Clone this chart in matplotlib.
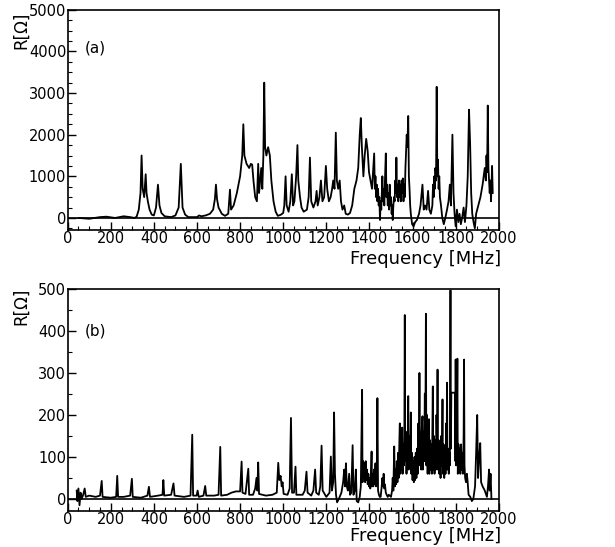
import matplotlib
matplotlib.use("Agg")
import matplotlib.pyplot as plt
from matplotlib.ticker import MultipleLocator

# ---------------- data ----------------
freq_a = [50, 100, 150, 180, 220, 260, 290, 310, 320, 330, 338, 343, 348, 355, 362, 366, 372, 380, 390, 400,
          410, 419, 426, 435, 450, 480, 500, 515, 525, 533, 545, 560, 600, 610, 620, 640, 660, 675, 683, 688,
          693, 700, 715, 730, 745, 753, 758, 770, 785, 800, 810, 815, 820, 830, 842, 850, 856, 862, 870, 878,
          884, 888, 893, 898, 903, 908, 912, 916, 922, 930, 938, 945, 955, 965, 975, 990, 1000, 1005, 1011, 1016,
          1025, 1033, 1040, 1046, 1052, 1060, 1066, 1070, 1078, 1085, 1095, 1110, 1118, 1124, 1130, 1140, 1150, 1155, 1160, 1168,
          1175, 1182, 1190, 1198, 1204, 1212, 1220, 1227, 1232, 1238, 1244, 1249, 1255, 1262, 1268, 1275, 1283, 1290, 1300, 1310,
          1320, 1330, 1340, 1348, 1355, 1360, 1365, 1372, 1378, 1385, 1392, 1398, 1405, 1412,
          1418, 1422, 1425, 1428, 1431, 1434, 1437, 1440, 1443, 1446, 1449, 1452, 1455, 1458, 1460, 1463, 1466, 1469, 1472, 1476,
          1479, 1482, 1485, 1488, 1491, 1494, 1497, 1500, 1503, 1506, 1508, 1511, 1514, 1517, 1520, 1523, 1525, 1528, 1531, 1534,
          1537, 1540, 1543, 1546, 1549, 1552, 1555, 1558, 1561, 1564, 1567, 1570, 1573, 1576, 1578, 1580, 1583, 1586, 1589, 1592,
          1598, 1605, 1612, 1620, 1630, 1637, 1646, 1652, 1658, 1665, 1672, 1678, 1685,
          1692, 1695, 1698, 1701, 1704, 1706, 1709, 1712, 1715, 1718, 1721, 1724, 1727, 1732,
          1738, 1745, 1752, 1760, 1767, 1773, 1778, 1785, 1790,
          1795, 1800, 1806, 1812, 1818, 1824, 1830, 1837, 1843, 1850, 1856, 1862, 1867, 1872, 1877, 1883, 1889, 1895, 1905, 1915,
          1925, 1935, 1940, 1943, 1946, 1949, 1952, 1955, 1958, 1961, 1964, 1966, 1969, 1972]
r_a = [0, -20, 20, 30, 0, 40, 20, 0, 30, 200, 600, 1500, 700, 500, 1050, 600, 400, 200, 80, 60,
       250, 800, 300, 120, 40, 20, 60, 250, 1300, 250, 80, 20, 20, 60, 40, 60, 100, 200, 450, 800,
       450, 250, 100, 50, 100, 680, 200, 300, 600, 1000, 1500, 2250, 1500, 1300, 1200, 1300, 1280, 900, 500, 400,
       1300, 600, 900, 1200, 700, 1500, 3250, 1700, 1500, 1700, 1500, 900, 400, 150, 50, 80, 120, 300, 1000, 300,
       150, 400, 1050, 300, 400, 1000, 1750, 900, 500, 250, 150, 200, 500, 1450, 400, 250, 400, 650, 300, 500,
       900, 400, 500, 1250, 700, 400, 500, 700, 900, 700, 2050, 900, 700, 900, 400, 200, 300, 100, 80, 120,
       300, 700, 900, 1200, 2000, 2400, 1700, 1000, 1500, 1900, 1600, 1100, 900, 700,
       1200, 1550, 700, 1000, 500, 800, 400, 700, 300, 500, -50, 400, 200, 700, 1000, 400, 700, 300, 900, 1550,
       500, 800, 300, 600, 200, 800, 300, 500, 100, 300, -50, 300, 500, 400, 900, 600, 1450, 500, 800, 400,
       900, 500, 800, 400, 900, 600, 950, 400, 800, 500, 1200, 1600, 2000, 1700, 2100, 2450, 1000, 700, 300, 100,
       -150, -200, -100, -50, 100, 300, 800, 200, 300, 200, 650, 200, 100,
       300, 800, 500, 1000, 700, 1200, 900, 3150, 1000, 1400, 700, 1000, 500, 300,
       0, -150, 0, 200, 400, 800, 300, 2000, 600,
       100, -200, 200, -100, 100, -150, 0, 250, -100, 300, 1000, 2600, 1800, 600, 100, -100, -250, 100, 300, 500,
       800, 1200, 900, 1500, 1100, 2700, 1200, 900, 600, 900, 400, 700, 1250, 600]

freq_b = [42, 45, 50, 55, 60, 65, 72, 79, 84, 100, 130, 150, 158, 162, 200, 225, 230, 234, 260, 290,
          298, 302, 340, 370, 377, 382, 420, 440, 444, 448, 480, 491, 496, 540, 570, 578, 582, 598, 603, 608,
          630, 638, 643, 680, 700, 708, 712, 740, 760, 780, 800, 807, 811, 825, 838, 842, 860, 870, 876, 880,
          884, 888, 920, 950, 970, 977, 982, 988, 993, 997, 1002, 1020, 1030, 1036, 1041, 1050, 1057, 1061, 1090, 1100,
          1108, 1113, 1130, 1140, 1148, 1153, 1165, 1172, 1178, 1183, 1200, 1215, 1221, 1226, 1232, 1236, 1240, 1245, 1250, 1258,
          1270, 1278, 1283, 1287, 1291, 1295, 1300, 1306, 1310, 1316, 1322, 1326, 1332, 1337, 1341, 1348, 1355,
          1360, 1366, 1368, 1371, 1374, 1377, 1380, 1383, 1386, 1389, 1392, 1395, 1398, 1401, 1404, 1407, 1410, 1412, 1415, 1418,
          1421, 1424, 1428, 1431, 1434, 1437, 1440, 1444, 1448, 1452, 1456, 1460, 1463, 1466, 1469, 1472, 1476, 1480, 1485, 1490,
          1500, 1505, 1508, 1511, 1515, 1518, 1521, 1524, 1527, 1530, 1533, 1536, 1539, 1541, 1543, 1546, 1549, 1552, 1554, 1557,
          1560, 1562, 1564, 1566, 1569, 1572, 1575, 1578, 1580, 1582, 1585, 1588, 1590, 1592, 1594, 1597, 1600, 1603, 1606, 1609,
          1612, 1615, 1618, 1621, 1624, 1627, 1630, 1632, 1634, 1637, 1640, 1643, 1646, 1648, 1651, 1654, 1657, 1659, 1662, 1664,
          1667, 1670, 1673, 1676, 1678, 1681, 1684, 1687, 1690, 1692, 1694, 1696, 1699, 1702, 1705, 1708, 1711, 1714, 1716, 1718,
          1721, 1724, 1727, 1730, 1733, 1736, 1739, 1741, 1744, 1747, 1750, 1753, 1756, 1758, 1760, 1762, 1765, 1768, 1771, 1773,
          1776, 1778, 1780, 1797, 1799, 1800, 1802, 1805, 1808, 1810, 1813, 1816, 1819, 1822, 1825, 1828, 1831, 1834, 1837, 1839,
          1841, 1844, 1848, 1852, 1855, 1860,
          1868, 1875, 1882, 1890, 1895, 1900, 1904, 1908, 1914, 1918, 1925, 1935, 1945, 1950, 1955,
          1958, 1962, 1966]
r_b = [20, -5, 25, -15, 15, 0, 10, 25, 5, 8, 5, 8, 43, 5, 3, 5, 55, 5, 5, 8,
       48, 5, 3, 8, 29, 5, 8, 10, 45, 8, 10, 37, 8, 5, 8, 153, 8, 8, 20, 5,
       8, 31, 8, 8, 10, 124, 8, 10, 15, 18, 18, 89, 15, 12, 72, 10, 10, 25, 50, 20,
       87, 12, 8, 10, 15, 86, 45, 55, 30, 40, 12, 10, 25, 193, 15, 15, 77, 10, 10, 20,
       65, 15, 8, 20, 70, 15, 10, 30, 127, 20, 5, 15, 101, 20, 40, 206, 60, 10, -8, 0,
       15, 40, 70, 30, 85, 30, 20, 60, 10, 15, 128, 10, 20, 70, -5, -8, 5,
       30, 260, 40, 90, 50, 85, 40, 90, 45, 70, 35, 60, 30, 50, 25, 60, 113, 30, 60, 30,
       70, 35, 85, 30, 50, 240, 20, 10, 5, 5, 25, 50, 30, 60, 25, 35, 15, 10, 5, 10,
       5, 20, 50, 20, 125, 30, 70, 35, 90, 40, 110, 50, 140, 180, 60, 120, 70, 170, 60, 130,
       80, 150, 438, 90, 160, 60, 140, 90, 245, 70, 150, 80, 130, 206, 60, 110, 45, 90, 40, 100,
       45, 110, 50, 120, 60, 180, 80, 300, 90, 160, 70, 170, 197, 70, 160, 90, 251, 100, 441, 80,
       200, 60, 150, 190, 60, 140, 70, 130, 60, 170, 268, 70, 150, 60, 140, 70, 200, 120, 308, 70,
       140, 60, 120, 50, 150, 80, 237, 60, 130, 50, 110, 60, 180, 90, 277, 70, 120, 60, 110, 80,
       497, 120, 253, 253, 90, 332, 80, 140, 334, 60, 130, 70, 120, 60, 130, 70, 110, 60, 150, 332,
       80, 50, 40, 60, 45, 10,
       5, -5, 0, 30, 110, 200, 50, 90, 133, 40, 30, 20, 5, 30, 70,
       20, 60, 0]

xticks = [0, 200, 400, 600, 800, 1000, 1200, 1400, 1600, 1800, 2000]
yticks_a = [0, 1000, 2000, 3000, 4000, 5000]
yticks_b = [0, 100, 200, 300, 400, 500]

# ---------------- figure ----------------
plt.rcParams['font.family'] = ['DejaVu Sans']
fig = plt.figure(figsize=(6.15, 5.47), dpi=100)
ax1 = fig.add_axes([0.110, 0.5795, 0.701, 0.4025])
ax2 = fig.add_axes([0.110, 0.0663, 0.701, 0.4054])

panels = [(ax1, freq_a, r_a, yticks_a, (-290, 5000), '(a)', 4080, 250),
          (ax2, freq_b, r_b, yticks_b, (-28, 500), '(b)', 400, 50)]

for ax, f, r, yt, yl, tag, ty, ymin in panels:
    ax.plot(f, r, color='black', lw=1.3)
    ax.axhline(0, color='black', lw=1.2)
    ax.set_xlim(0, 2000)
    ax.set_ylim(*yl)
    ax.set_xticks(xticks)
    ax.set_xticklabels([str(t) for t in xticks])
    ax.set_yticks(yt)
    ax.set_yticklabels([str(t) for t in yt])
    ax.xaxis.set_minor_locator(MultipleLocator(50))
    ax.yaxis.set_minor_locator(MultipleLocator(ymin))
    ax.tick_params(axis='both', which='major', direction='in', length=6, width=1,
                   labelsize=10.5, pad=1, top=False, right=False)
    ax.tick_params(axis='both', which='minor', direction='in', length=3, width=0.8,
                   top=False, right=False)
    for s in ax.spines.values():
        s.set_linewidth(1.2)
    ax.text(130, ty, tag, fontsize=11, ha='center', va='center')

fig.text(0.815, 0.527, 'Frequency [MHz]', fontsize=13, ha='right', va='center')
fig.text(0.815, 0.020, 'Frequency [MHz]', fontsize=13, ha='right', va='center')
fig.text(0.035, 0.945, 'R[Ω]', fontsize=12, rotation=90, ha='center', va='center')
fig.text(0.035, 0.44, 'R[Ω]', fontsize=12, rotation=90, ha='center', va='center')

fig.savefig('out.png', dpi=100)
